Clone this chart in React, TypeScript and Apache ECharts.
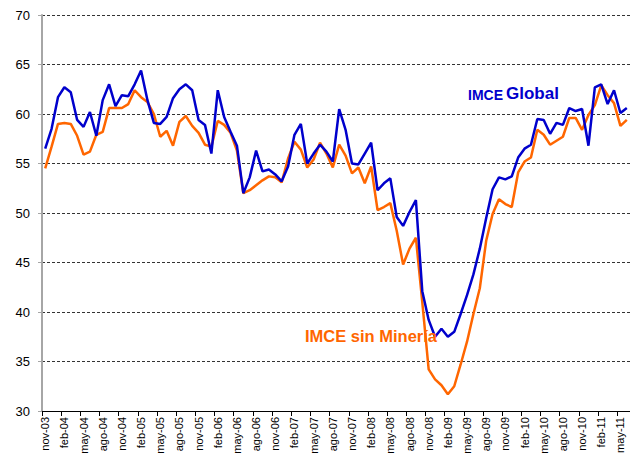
import React, { useEffect, useRef } from 'react';
import * as echarts from 'echarts';

const categories = [
  'nov-03', 'dic-03',
  'ene-04', 'feb-04', 'mar-04', 'abr-04', 'may-04', 'jun-04', 'jul-04', 'ago-04', 'sep-04', 'oct-04', 'nov-04', 'dic-04',
  'ene-05', 'feb-05', 'mar-05', 'abr-05', 'may-05', 'jun-05', 'jul-05', 'ago-05', 'sep-05', 'oct-05', 'nov-05', 'dic-05',
  'ene-06', 'feb-06', 'mar-06', 'abr-06', 'may-06', 'jun-06', 'jul-06', 'ago-06', 'sep-06', 'oct-06', 'nov-06', 'dic-06',
  'ene-07', 'feb-07', 'mar-07', 'abr-07', 'may-07', 'jun-07', 'jul-07', 'ago-07', 'sep-07', 'oct-07', 'nov-07', 'dic-07',
  'ene-08', 'feb-08', 'mar-08', 'abr-08', 'may-08', 'jun-08', 'jul-08', 'ago-08', 'sep-08', 'oct-08', 'nov-08', 'dic-08',
  'ene-09', 'feb-09', 'mar-09', 'abr-09', 'may-09', 'jun-09', 'jul-09', 'ago-09', 'sep-09', 'oct-09', 'nov-09', 'dic-09',
  'ene-10', 'feb-10', 'mar-10', 'abr-10', 'may-10', 'jun-10', 'jul-10', 'ago-10', 'sep-10', 'oct-10', 'nov-10', 'dic-10',
  'ene-11', 'feb-11', 'mar-11', 'abr-11', 'may-11', 'jun-11',
];

const imceGlobal = [
  56.5, 58.5,
  61.7, 62.7, 62.2, 59.4, 58.7, 60.2, 57.8, 61.4, 63.0, 60.8, 61.9, 61.8,
  63.0, 64.4, 61.4, 59.1, 59.0, 59.7, 61.6, 62.5, 63.0, 62.4, 59.4, 58.9,
  56.0, 62.4, 59.7, 58.2, 56.8, 52.0, 53.6, 56.3, 54.2, 54.4, 53.9, 53.2,
  54.7, 57.9, 59.0, 55.0, 56.0, 56.9, 56.2, 55.2, 60.5, 58.4, 55.0, 54.9,
  56.0, 57.1, 52.3, 53.0, 53.5, 49.6, 48.7, 50.1, 51.3, 42.1, 39.2, 37.5,
  38.3, 37.5, 38.0, 39.8, 41.7, 43.8, 46.4, 49.5, 52.4, 53.6, 53.4, 53.7,
  55.6, 56.5, 56.9, 59.5, 59.4, 58.0, 59.1, 58.9, 60.6, 60.3, 60.5, 56.8,
  62.7, 63.0, 61.0, 62.4, 60.1, 60.6,
];

const imceSinMineria = [
  54.5, 56.7,
  59.0, 59.1, 59.0, 57.8, 55.9, 56.2, 57.9, 58.2, 60.6, 60.6, 60.6, 61.0,
  62.4, 61.7, 61.2, 60.0, 57.7, 58.3, 56.8, 59.2, 59.8, 58.8, 58.1, 56.9,
  56.7, 59.3, 58.9, 58.1, 56.3, 52.0, 52.3, 52.8, 53.3, 53.7, 53.6, 53.1,
  55.5, 57.2, 56.4, 54.6, 55.4, 57.1, 56.0, 54.6, 56.9, 55.8, 54.0, 54.6,
  53.0, 54.7, 50.3, 50.6, 51.0, 48.2, 44.8, 46.4, 47.5, 41.0, 34.2, 33.2,
  32.6, 31.7, 32.5, 34.7, 37.0, 39.8, 42.4, 47.2, 49.9, 51.4, 50.9, 50.6,
  54.1, 55.2, 55.6, 58.4, 57.9, 56.9, 57.3, 57.7, 59.6, 59.6, 58.4, 59.9,
  60.9, 62.9, 61.9, 61.1, 58.8, 59.4,
];

const yMin = 30;
const yMax = 70;
const yStep = 5;

const FONT = '"Liberation Sans", Arial, sans-serif';
const BLUE = '#0000cc';
const ORANGE = '#ff6600';

export default function App() {
  const ref = useRef<HTMLDivElement>(null);
  useEffect(() => {
    if (!ref.current) return;
    const chart = echarts.init(ref.current, null, { renderer: 'svg' });
    chart.setOption({
      animation: false,
      textStyle: { fontFamily: FONT },
      grid: { left: 42, top: 15, width: 591.6, height: 396, containLabel: false },
      xAxis: {
        type: 'category',
        data: categories,
        boundaryGap: true,
        axisLine: { show: true, lineStyle: { color: '#000', width: 1 } },
        axisTick: { show: true, interval: 2, length: 5, lineStyle: { color: '#000' } },
        axisLabel: { interval: 2, rotate: 90, fontSize: 11, color: '#000', fontFamily: FONT, margin: 6 },
        splitLine: { show: false },
      },
      yAxis: {
        type: 'value',
        min: yMin,
        max: yMax,
        interval: yStep,
        axisLine: { show: true, lineStyle: { color: '#a6a6a6', width: 2 } },
        axisTick: { show: true, length: 4, lineStyle: { color: '#a6a6a6' } },
        axisLabel: { fontSize: 13, color: '#000', fontFamily: FONT, margin: 12 },
        splitLine: { show: true, lineStyle: { type: [3, 2], color: '#333', width: 1 } },
      },
      series: [
        {
          name: 'IMCE sin Minería',
          type: 'line',
          data: imceSinMineria,
          symbol: 'none',
          lineStyle: { color: ORANGE, width: 2.5 },
          itemStyle: { color: ORANGE },
          z: 2,
        },
        {
          name: 'IMCE Global',
          type: 'line',
          data: imceGlobal,
          symbol: 'none',
          lineStyle: { color: BLUE, width: 2.5 },
          itemStyle: { color: BLUE },
          z: 3,
        },
      ],
      graphic: [
        {
          type: 'text',
          left: 468,
          top: 88,
          z: 10,
          style: { text: 'IMCE', fill: BLUE, font: `bold 14px ${FONT}` },
        },
        {
          type: 'text',
          left: 506,
          top: 85,
          z: 10,
          style: { text: 'Global', fill: BLUE, font: `bold 17px ${FONT}` },
        },
        {
          type: 'text',
          left: 305,
          top: 327,
          z: 10,
          style: { text: 'IMCE sin Minería', fill: ORANGE, font: `bold 16.5px ${FONT}` },
        },
      ],
    });
    return () => chart.dispose();
  }, []);
  return (
    <div
      ref={ref}
      style={{ position: 'fixed', left: 0, top: 0, width: 630, height: 461, background: '#fff' }}
    />
  );
}
